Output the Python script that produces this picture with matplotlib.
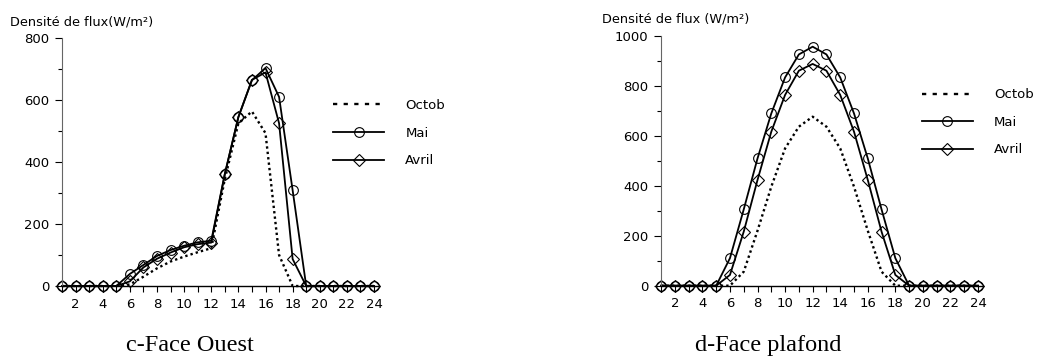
import numpy as np
import matplotlib.pyplot as plt
from matplotlib.ticker import MultipleLocator

plt.rcParams["font.family"] = ["DejaVu Sans"]

hours = np.arange(1, 25)

# c-Face Ouest (W/m2)
ouest_octob = [0, 0, 0, 0, 0, 5, 30, 57, 79, 95, 109, 122, 345, 525, 563, 493, 100, 0, 0, 0, 0, 0, 0, 0]
ouest_mai = [0, 0, 0, 0, 0, 39, 68, 97, 116, 130, 141, 146, 362, 545, 664, 703, 610, 309, 0, 0, 0, 0, 0, 0]
ouest_avril = [0, 0, 0, 0, 0, 15, 60, 88, 108, 125, 135, 140, 360, 545, 665, 689, 525, 87, 0, 0, 0, 0, 0, 0]

# d-Face plafond (W/m2)
plafond_octob = [0, 0, 0, 0, 0, 0, 56, 220, 396, 549, 636, 676, 636, 549, 396, 220, 56, 0, 0, 0, 0, 0, 0, 0]
plafond_mai = [0, 0, 0, 0, 0, 110, 305, 509, 689, 833, 925, 956, 925, 833, 689, 509, 305, 110, 0, 0, 0, 0, 0, 0]
plafond_avril = [0, 0, 0, 0, 0, 43, 216, 423, 616, 763, 860, 887, 860, 763, 616, 423, 216, 43, 0, 0, 0, 0, 0, 0]

panels = [
    dict(octob=ouest_octob, mai=ouest_mai, avril=ouest_avril, ymax=800,
         ylabel="Densité de flux(W/m²)", title="c-Face Ouest",
         rect=[0.0596, 0.2033, 0.3036, 0.6908],
         ylabel_x=-0.165, title_x=0.405, legend_at=(0.84, 0.775)),
    dict(octob=plafond_octob, mai=plafond_mai, avril=plafond_avril, ymax=1000,
         ylabel="Densité de flux (W/m²)", title="d-Face plafond",
         rect=[0.635, 0.2042, 0.3085, 0.6964],
         ylabel_x=-0.184, title_x=0.333, legend_at=(0.795, 0.81)),
]

fig = plt.figure(figsize=(10.41, 3.59), dpi=100)

for p in panels:
    ax = fig.add_axes(p["rect"])
    ax.plot(hours, p["octob"], color="black", lw=1.7, linestyle=(0, (1, 1.3)),
            label="Octob", clip_on=False)
    ax.plot(hours, p["mai"], color="black", lw=1.3, marker="o", ms=7,
            mfc="none", mec="black", mew=0.8, label="Mai", clip_on=False)
    ax.plot(hours, p["avril"], color="black", lw=1.3, marker="D", ms=6,
            mfc="none", mec="black", mew=0.8, label="Avril", clip_on=False)

    ax.set_xlim(1, 24.3)
    ax.set_ylim(0, p["ymax"])
    for side in ("top", "right"):
        ax.spines[side].set_visible(False)
    ax.spines["left"].set_color("#666666")
    ax.spines["bottom"].set_linewidth(1.0)

    ax.xaxis.set_major_locator(MultipleLocator(2))
    ax.xaxis.set_minor_locator(MultipleLocator(1))
    ax.yaxis.set_major_locator(MultipleLocator(200))
    ax.yaxis.set_minor_locator(MultipleLocator(100))
    ax.tick_params(axis="x", which="both", direction="out", length=4.5, width=0.8,
                   labelsize=9.5, pad=4)
    ax.tick_params(axis="y", which="major", direction="out", length=5, width=0.8,
                   labelsize=9.5, pad=4)
    ax.tick_params(axis="y", which="minor", direction="out", length=3, width=0.8)

    leg = ax.legend(loc="upper left", bbox_to_anchor=p["legend_at"], frameon=False,
                    fontsize=9.5, handlelength=3.9, numpoints=1, labelspacing=1.1,
                    handletextpad=1.6, borderaxespad=0)
    leg.get_lines()[0].set_linestyle((0, (1.8, 2.7)))

    ax.text(p["ylabel_x"], 1.04, p["ylabel"], transform=ax.transAxes, fontsize=9.3,
            ha="left", va="bottom")
    ax.text(p["title_x"], -0.238, p["title"], transform=ax.transAxes, fontsize=17.5,
            family="Liberation Serif", ha="center", va="center")

fig.savefig("out.png", dpi=100)
